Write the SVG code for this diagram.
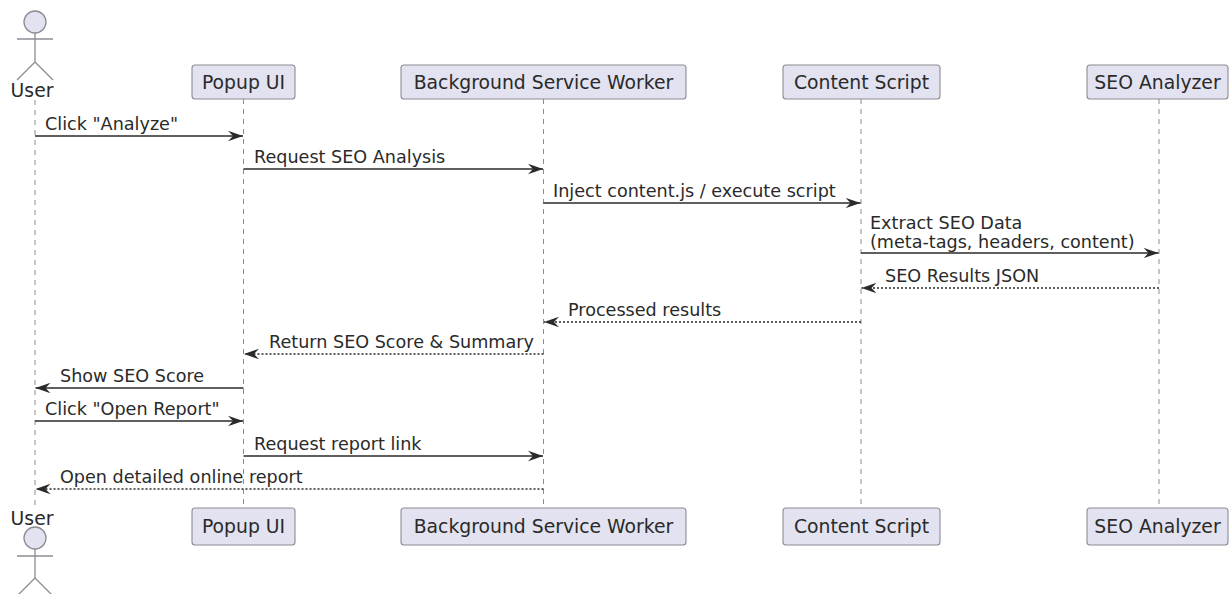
<svg xmlns="http://www.w3.org/2000/svg" width="1232" height="594" viewBox="0 0 1232 594">
<style>
.bg{fill:#ffffff}
.box{fill:#E2E2F0;stroke:#8c8c94;stroke-width:1.1}
.ptxt{font-family:"DejaVu Sans",sans-serif;font-size:18.8px;fill:#2a2a2a;text-anchor:middle}
.mtxt{font-family:"DejaVu Sans",sans-serif;font-size:17.6px;fill:#2a2a2a}
.life{stroke:#8c8c8c;stroke-width:1;stroke-dasharray:5,5;fill:none}
.msg{stroke:#2a2a2a;stroke-width:1.3;fill:none}
.ret{stroke:#2a2a2a;stroke-width:1.3;fill:none;stroke-dasharray:2,2}
.actor{fill:none;stroke:#8c8c94;stroke-width:1.3}
.head{fill:#E2E2F0;stroke:#8c8c94;stroke-width:1.3}
</style>
<defs>
<marker id="ah" markerUnits="userSpaceOnUse" markerWidth="16" markerHeight="12" refX="15" refY="6" orient="auto">
<path d="M0,0.8 L15,6 L0,11.2 L5,6 Z" fill="#2a2a2a" stroke="none"/>
</marker>
</defs>
<rect class="bg" x="0" y="0" width="1232" height="594"/>

<g id="lifelines">
<line class="life" x1="35" y1="100" x2="35" y2="510"/>
<line class="life" x1="243.5" y1="99" x2="243.5" y2="508"/>
<line class="life" x1="543.5" y1="99" x2="543.5" y2="508"/>
<line class="life" x1="861" y1="99" x2="861" y2="508"/>
<line class="life" x1="1159" y1="99" x2="1159" y2="508"/>
</g>

<g id="user">
<circle class="head" cx="35" cy="22" r="11"/>
<line class="actor" x1="35" y1="33" x2="35" y2="62"/>
<line class="actor" x1="17" y1="39" x2="53" y2="39"/>
<line class="actor" x1="35" y1="62" x2="17" y2="80"/>
<line class="actor" x1="35" y1="62" x2="53" y2="80"/>
<text class="ptxt" x="32" y="97">User</text>
</g>
<g id="user-bottom">
<text class="ptxt" x="32" y="525">User</text>
<circle class="head" cx="35" cy="538" r="11"/>
<line class="actor" x1="35" y1="549" x2="35" y2="578"/>
<line class="actor" x1="17" y1="556" x2="53" y2="556"/>
<line class="actor" x1="35" y1="578" x2="17" y2="596"/>
<line class="actor" x1="35" y1="578" x2="53" y2="596"/>
</g>

<g id="popup">
<rect class="box" x="192" y="65" width="103" height="34" rx="3"/>
<text class="ptxt" x="243.5" y="88.5">Popup UI</text>
</g>
<g id="popup-bottom">
<rect class="box" x="192" y="508" width="103" height="37" rx="3"/>
<text class="ptxt" x="243.5" y="533">Popup UI</text>
</g>
<g id="bsw">
<rect class="box" x="401" y="65" width="285" height="34" rx="3"/>
<text class="ptxt" x="543.5" y="88.5">Background Service Worker</text>
</g>
<g id="bsw-bottom">
<rect class="box" x="401" y="508" width="285" height="37" rx="3"/>
<text class="ptxt" x="543.5" y="533">Background Service Worker</text>
</g>
<g id="content">
<rect class="box" x="783" y="65" width="157" height="34" rx="3"/>
<text class="ptxt" x="861.5" y="88.5">Content Script</text>
</g>
<g id="content-bottom">
<rect class="box" x="783" y="508" width="157" height="37" rx="3"/>
<text class="ptxt" x="861.5" y="533">Content Script</text>
</g>
<g id="seo">
<rect class="box" x="1087" y="65" width="141" height="34" rx="3"/>
<text class="ptxt" x="1157.5" y="88.5">SEO Analyzer</text>
</g>
<g id="seo-bottom">
<rect class="box" x="1087" y="508" width="141" height="37" rx="3"/>
<text class="ptxt" x="1157.5" y="533">SEO Analyzer</text>
</g>

<g id="connectors">
<line class="msg" x1="35" y1="136" x2="243" y2="136" marker-end="url(#ah)"/>
<line class="msg" x1="243.5" y1="169" x2="543" y2="169" marker-end="url(#ah)"/>
<line class="msg" x1="543.5" y1="203" x2="860.5" y2="203" marker-end="url(#ah)"/>
<line class="msg" x1="861" y1="253" x2="1158.5" y2="253" marker-end="url(#ah)"/>
<line class="ret" x1="1159" y1="288" x2="861.5" y2="288" marker-end="url(#ah)"/>
<line class="ret" x1="861" y1="322" x2="544" y2="322" marker-end="url(#ah)"/>
<line class="ret" x1="543.5" y1="354" x2="244" y2="354" marker-end="url(#ah)"/>
<line class="msg" x1="243.5" y1="388" x2="35.5" y2="388" marker-end="url(#ah)"/>
<line class="msg" x1="35" y1="421" x2="243" y2="421" marker-end="url(#ah)"/>
<line class="msg" x1="243.5" y1="456" x2="543" y2="456" marker-end="url(#ah)"/>
<line class="ret" x1="543.5" y1="489" x2="35.5" y2="489" marker-end="url(#ah)"/>
</g>

<g id="labels">
<text class="mtxt" x="45" y="130">Click "Analyze"</text>
<text class="mtxt" x="254" y="163">Request SEO Analysis</text>
<text class="mtxt" x="553" y="197">Inject content.js / execute script</text>
<text class="mtxt" x="870" y="229">Extract SEO Data</text>
<text class="mtxt" x="870" y="248">(meta-tags, headers, content)</text>
<text class="mtxt" x="885" y="282">SEO Results JSON</text>
<text class="mtxt" x="568" y="316">Processed results</text>
<text class="mtxt" x="269" y="348">Return SEO Score &amp; Summary</text>
<text class="mtxt" x="60" y="382">Show SEO Score</text>
<text class="mtxt" x="45" y="415">Click "Open Report"</text>
<text class="mtxt" x="254" y="450">Request report link</text>
<text class="mtxt" x="60" y="483">Open detailed online report</text>
</g>
</svg>
